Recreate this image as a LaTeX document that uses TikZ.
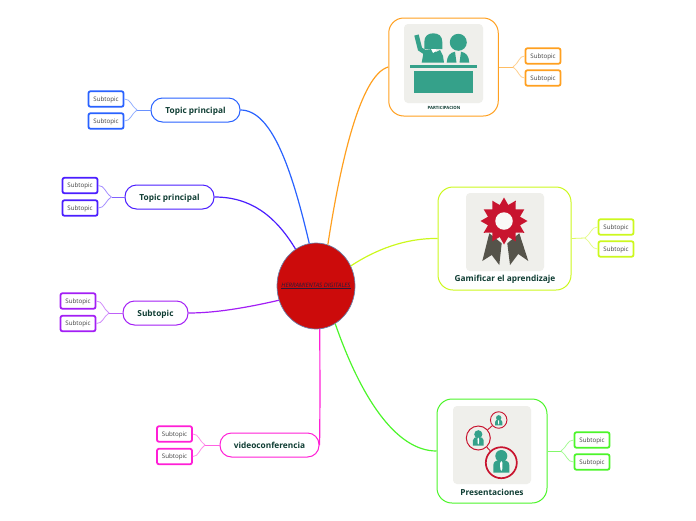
\documentclass[tikz,border=0pt]{standalone}
\usepackage{fontspec}
\setmainfont{Open Sans}
\usepackage{tikz}
\usetikzlibrary{shapes.geometric}
\definecolor{bluebr}{HTML}{2962FF}
\definecolor{indigobr}{HTML}{4B1EFF}
\definecolor{purplebr}{HTML}{A31EF5}
\definecolor{magentabr}{HTML}{FF1FD6}
\definecolor{greenbr}{HTML}{4CF52A}
\definecolor{yellowbr}{HTML}{CCF81E}
\definecolor{orangebr}{HTML}{FFA020}
\definecolor{inktext}{HTML}{0F3D33}
\definecolor{hubred}{HTML}{CC0B0B}
\definecolor{hubedge}{HTML}{6B7FA8}
\definecolor{hubtext}{HTML}{2B1A3A}
\definecolor{picgray}{HTML}{EFEFEB}
\definecolor{picteal}{HTML}{35A18A}
\definecolor{picred}{HTML}{C8142F}
\definecolor{picdark}{HTML}{55534A}
\tikzset{
  topicbox/.style={draw, line width=1pt, rounded corners=11.5pt, fill=white, minimum height=24pt,
    inner sep=0pt, align=center, text=inktext, text height=6.2pt, text depth=0pt, font=\fontsize{8.3}{10}\selectfont\bfseries},
  picbox/.style={draw, line width=1pt, rounded corners=15pt, fill=white, inner sep=0pt},
  picback/.style={fill=picgray, rounded corners=4pt, inner sep=0pt, minimum width=78pt, minimum height=78pt},
  piclabel/.style={text=inktext, inner sep=0pt, font=\fontsize{8.3}{10}\selectfont\bfseries},
  subbox/.style={draw, line width=1.8pt, rounded corners=2pt, fill=white, minimum width=35pt, minimum height=15.5pt,
    inner sep=0pt, text=black!75, text height=4.6pt, text depth=0pt, font=\fontsize{6.2}{8}\selectfont},
  mainline/.style={line width=1.2pt},
  forkline/.style={line width=0.8pt},
  seatcircle/.style={circle, draw=picred, inner sep=0pt}
}
\newcommand{\personicon}[2]{
  \begin{scope}[shift={(#1)}, scale=#2]
    \fill[picteal] (0,-7) circle (6);
    \fill[picteal] (-8,9.7) -- (-8,2) .. controls (-8,-2) and (-4,-3) .. (0,-3) .. controls (4,-3) and (8,-2) .. (8,2) -- (8,9.7) -- cycle;
    \fill[white] (0,-2) -- (1.2,0) -- (1,6) -- (0,8) -- (-1,6) -- (-1.2,0) -- cycle;
  \end{scope}
}

\begin{document}
\begin{tikzpicture}[x=1pt, y=-1pt]
  \useasboundingbox (0,0) rectangle (696,520);

  \node (hub) [ellipse, draw=hubedge, line width=0.7pt, fill=hubred, minimum width=78pt, minimum height=86pt, inner sep=0pt, text=hubtext, font=\fontsize{6}{7}\selectfont\itshape] at (316,286)
  {\makebox[0pt]{\underline{HERRAMIENTAS DIGITALES}}};

  \node (topicA) [topicbox, draw=bluebr, minimum width=89pt] at (195.5,110) {Topic principal};
  \node (topicB) [topicbox, draw=indigobr, minimum width=89pt] at (169.5,197) {Topic principal};
  \node (topicC) [topicbox, draw=purplebr, minimum width=65pt] at (155.5,313) {Subtopic};
  \node (topicD) [topicbox, draw=magentabr, minimum width=99pt] at (269.5,445) {videoconferencia};

  \node (partbox) [picbox, draw=orangebr, minimum width=109.5pt, minimum height=98pt] at (443.5,67) {};
  \node (gamebox) [picbox, draw=yellowbr, minimum width=133pt, minimum height=103pt] at (504.5,238.5) {};
  \node (presbox) [picbox, draw=greenbr, minimum width=110pt, minimum height=104pt] at (492,451) {};

  \node (partback) [picback, minimum width=79pt, minimum height=79pt] at (443.5,63.5) {};
  \node (gameback) [picback] at (505,232) {};
  \node (presback) [picback] at (492,445) {};

  \fill[picteal] (424.3,49) -- (424.3,42) .. controls (424.3,36) and (428,33.3) .. (433.3,33.3) .. controls (438.6,33.3) and (442.3,36) .. (442.3,42) -- (442.3,49) -- cycle;
  \draw[picteal, line width=4.5pt] (416.5,35) -- (420,49) -- (426,53);
  \fill[picteal] (421.7,62.7) -- (424,50) -- (432,49) -- (436,52) -- (440,50) -- (443,56) -- (444,62.7) -- cycle;
  \fill[white] (431,49) -- (433,53) -- (436,51) -- (436,49) -- cycle;
  \fill[picteal] (458.3,42.3) circle (8.5);
  \fill[picteal] (446.7,62.7) .. controls (447,56) and (450,52.5) .. (455,51.7) -- (456.5,62.7) -- cycle;
  \fill[picteal] (469.3,62.7) .. controls (469,56) and (466,52.5) .. (461,51.7) -- (459.5,62.7) -- cycle;
  \fill[picteal] (410,65) rectangle (476.7,67.7);
  \fill[picteal] (414,70.7) rectangle (473.3,93.3);

  \fill[picdark] (489.3,233.3) -- (501.7,243.3) -- (499.3,265) -- (491.7,255) -- (482.3,261) -- cycle;
  \fill[picdark] (507.3,243.3) -- (519.3,233.3) -- (528.3,261) -- (518.3,254) -- (510,265) -- cycle;
  \node (medal) [star, star points=12, star point ratio=1.42, fill=picred, minimum size=47pt, inner sep=0pt] at (504,221) {};
  \node (medalhole) [circle, fill=picgray!40, minimum size=17.5pt, inner sep=0pt] at (504,221) {};

  \node (seatS) [seatcircle, line width=0.9pt, minimum size=16.5pt] at (498.7,420) {};
  \node (seatM) [seatcircle, line width=1pt, minimum size=24pt] at (478.3,438) {};
  \node (seatL) [seatcircle, line width=1.7pt, minimum size=31pt] at (501.3,462.7) {};
  \draw[picred, line width=0.9pt] (seatS) -- (seatM);
  \draw[picred, line width=0.9pt] (seatM) -- (seatL);
  \personicon{498.7,421}{0.45}
  \personicon{478.3,439}{0.68}
  \personicon{501.3,463}{1}

  \node (partlabel) [piclabel, font=\fontsize{4.3}{5}\selectfont\bfseries] at (444,107.5) {PARTICIPACION};
  \node (gamelabel) [piclabel] at (505,279.5) {Gamificar el aprendizaje};
  \node (preslabel) [piclabel] at (492,492.5) {Presentaciones};

  \node (subA1) [subbox, draw=bluebr] at (106,99) {Subtopic};
  \node (subA2) [subbox, draw=bluebr] at (106,121) {Subtopic};
  \node (subB1) [subbox, draw=indigobr] at (80,185.5) {Subtopic};
  \node (subB2) [subbox, draw=indigobr] at (80,208) {Subtopic};
  \node (subC1) [subbox, draw=purplebr] at (78,301) {Subtopic};
  \node (subC2) [subbox, draw=purplebr] at (78,323.5) {Subtopic};
  \node (subD1) [subbox, draw=magentabr] at (174.5,434) {Subtopic};
  \node (subD2) [subbox, draw=magentabr] at (174.5,456.5) {Subtopic};
  \node (subE1) [subbox, draw=orangebr] at (543,56) {Subtopic};
  \node (subE2) [subbox, draw=orangebr] at (543,78) {Subtopic};
  \node (subF1) [subbox, draw=yellowbr] at (616,227) {Subtopic};
  \node (subF2) [subbox, draw=yellowbr] at (616,249) {Subtopic};
  \node (subG1) [subbox, draw=greenbr] at (592,440) {Subtopic};
  \node (subG2) [subbox, draw=greenbr] at (592,462) {Subtopic};

  \coordinate (forkA) at (137,110);
  \coordinate (forkB) at (111.5,197);
  \coordinate (forkC) at (109,313);
  \coordinate (forkD) at (205,445);
  \coordinate (forkE) at (513,67);
  \coordinate (forkF) at (585,238);
  \coordinate (forkG) at (561,451);

  \draw[mainline, draw=bluebr] (hub.99) .. controls (292,170) and (272,110) .. (topicA.east);
  \draw[mainline, draw=indigobr] (hub.119) .. controls (275,215) and (250,197) .. (topicB.east);
  \draw[mainline, draw=purplebr] (hub.201) .. controls (245,308) and (215,313) .. (topicC.east);
  \draw[mainline, draw=magentabr] (hub.-85) .. controls (320,390) and (320,425) .. (topicD.east);
  \draw[mainline, draw=orangebr] (hub.74) .. controls (340,165) and (360,75) .. (partbox.west);
  \draw[mainline, draw=yellowbr] (hub.30) .. controls (375,250) and (405,238) .. (gamebox.west);
  \draw[mainline, draw=greenbr] (hub.-63) .. controls (360,395) and (395,451) .. (presbox.west);

  \draw[forkline, draw=bluebr!70] (topicA.west) -- (forkA);
  \draw[forkline, draw=bluebr!50] (forkA) .. controls (131,106) and (131,99) .. (subA1.east);
  \draw[forkline, draw=bluebr!50] (forkA) .. controls (131,114) and (131,121) .. (subA2.east);
  \draw[forkline, draw=indigobr!70] (topicB.west) -- (forkB);
  \draw[forkline, draw=indigobr!50] (forkB) .. controls (105,193) and (105,185.5) .. (subB1.east);
  \draw[forkline, draw=indigobr!50] (forkB) .. controls (105,201) and (105,208) .. (subB2.east);
  \draw[forkline, draw=purplebr!70] (topicC.west) -- (forkC);
  \draw[forkline, draw=purplebr!50] (forkC) .. controls (103,309) and (103,301) .. (subC1.east);
  \draw[forkline, draw=purplebr!50] (forkC) .. controls (103,317) and (103,323.5) .. (subC2.east);
  \draw[forkline, draw=magentabr!70] (topicD.west) -- (forkD);
  \draw[forkline, draw=magentabr!50] (forkD) .. controls (199,441) and (199,434) .. (subD1.east);
  \draw[forkline, draw=magentabr!50] (forkD) .. controls (199,449) and (199,456.5) .. (subD2.east);
  \draw[forkline, draw=orangebr!70] (partbox.east) -- (forkE);
  \draw[forkline, draw=orangebr!50] (forkE) .. controls (519,63) and (519,56) .. (subE1.west);
  \draw[forkline, draw=orangebr!50] (forkE) .. controls (519,71) and (519,78) .. (subE2.west);
  \draw[forkline, draw=yellowbr!70] (gamebox.east) -- (forkF);
  \draw[forkline, draw=yellowbr!50] (forkF) .. controls (591,234) and (591,227) .. (subF1.west);
  \draw[forkline, draw=yellowbr!50] (forkF) .. controls (591,242) and (591,249) .. (subF2.west);
  \draw[forkline, draw=greenbr!70] (presbox.east) -- (forkG);
  \draw[forkline, draw=greenbr!50] (forkG) .. controls (567,447) and (567,440) .. (subG1.west);
  \draw[forkline, draw=greenbr!50] (forkG) .. controls (567,455) and (567,462) .. (subG2.west);
\end{tikzpicture}
\end{document}
